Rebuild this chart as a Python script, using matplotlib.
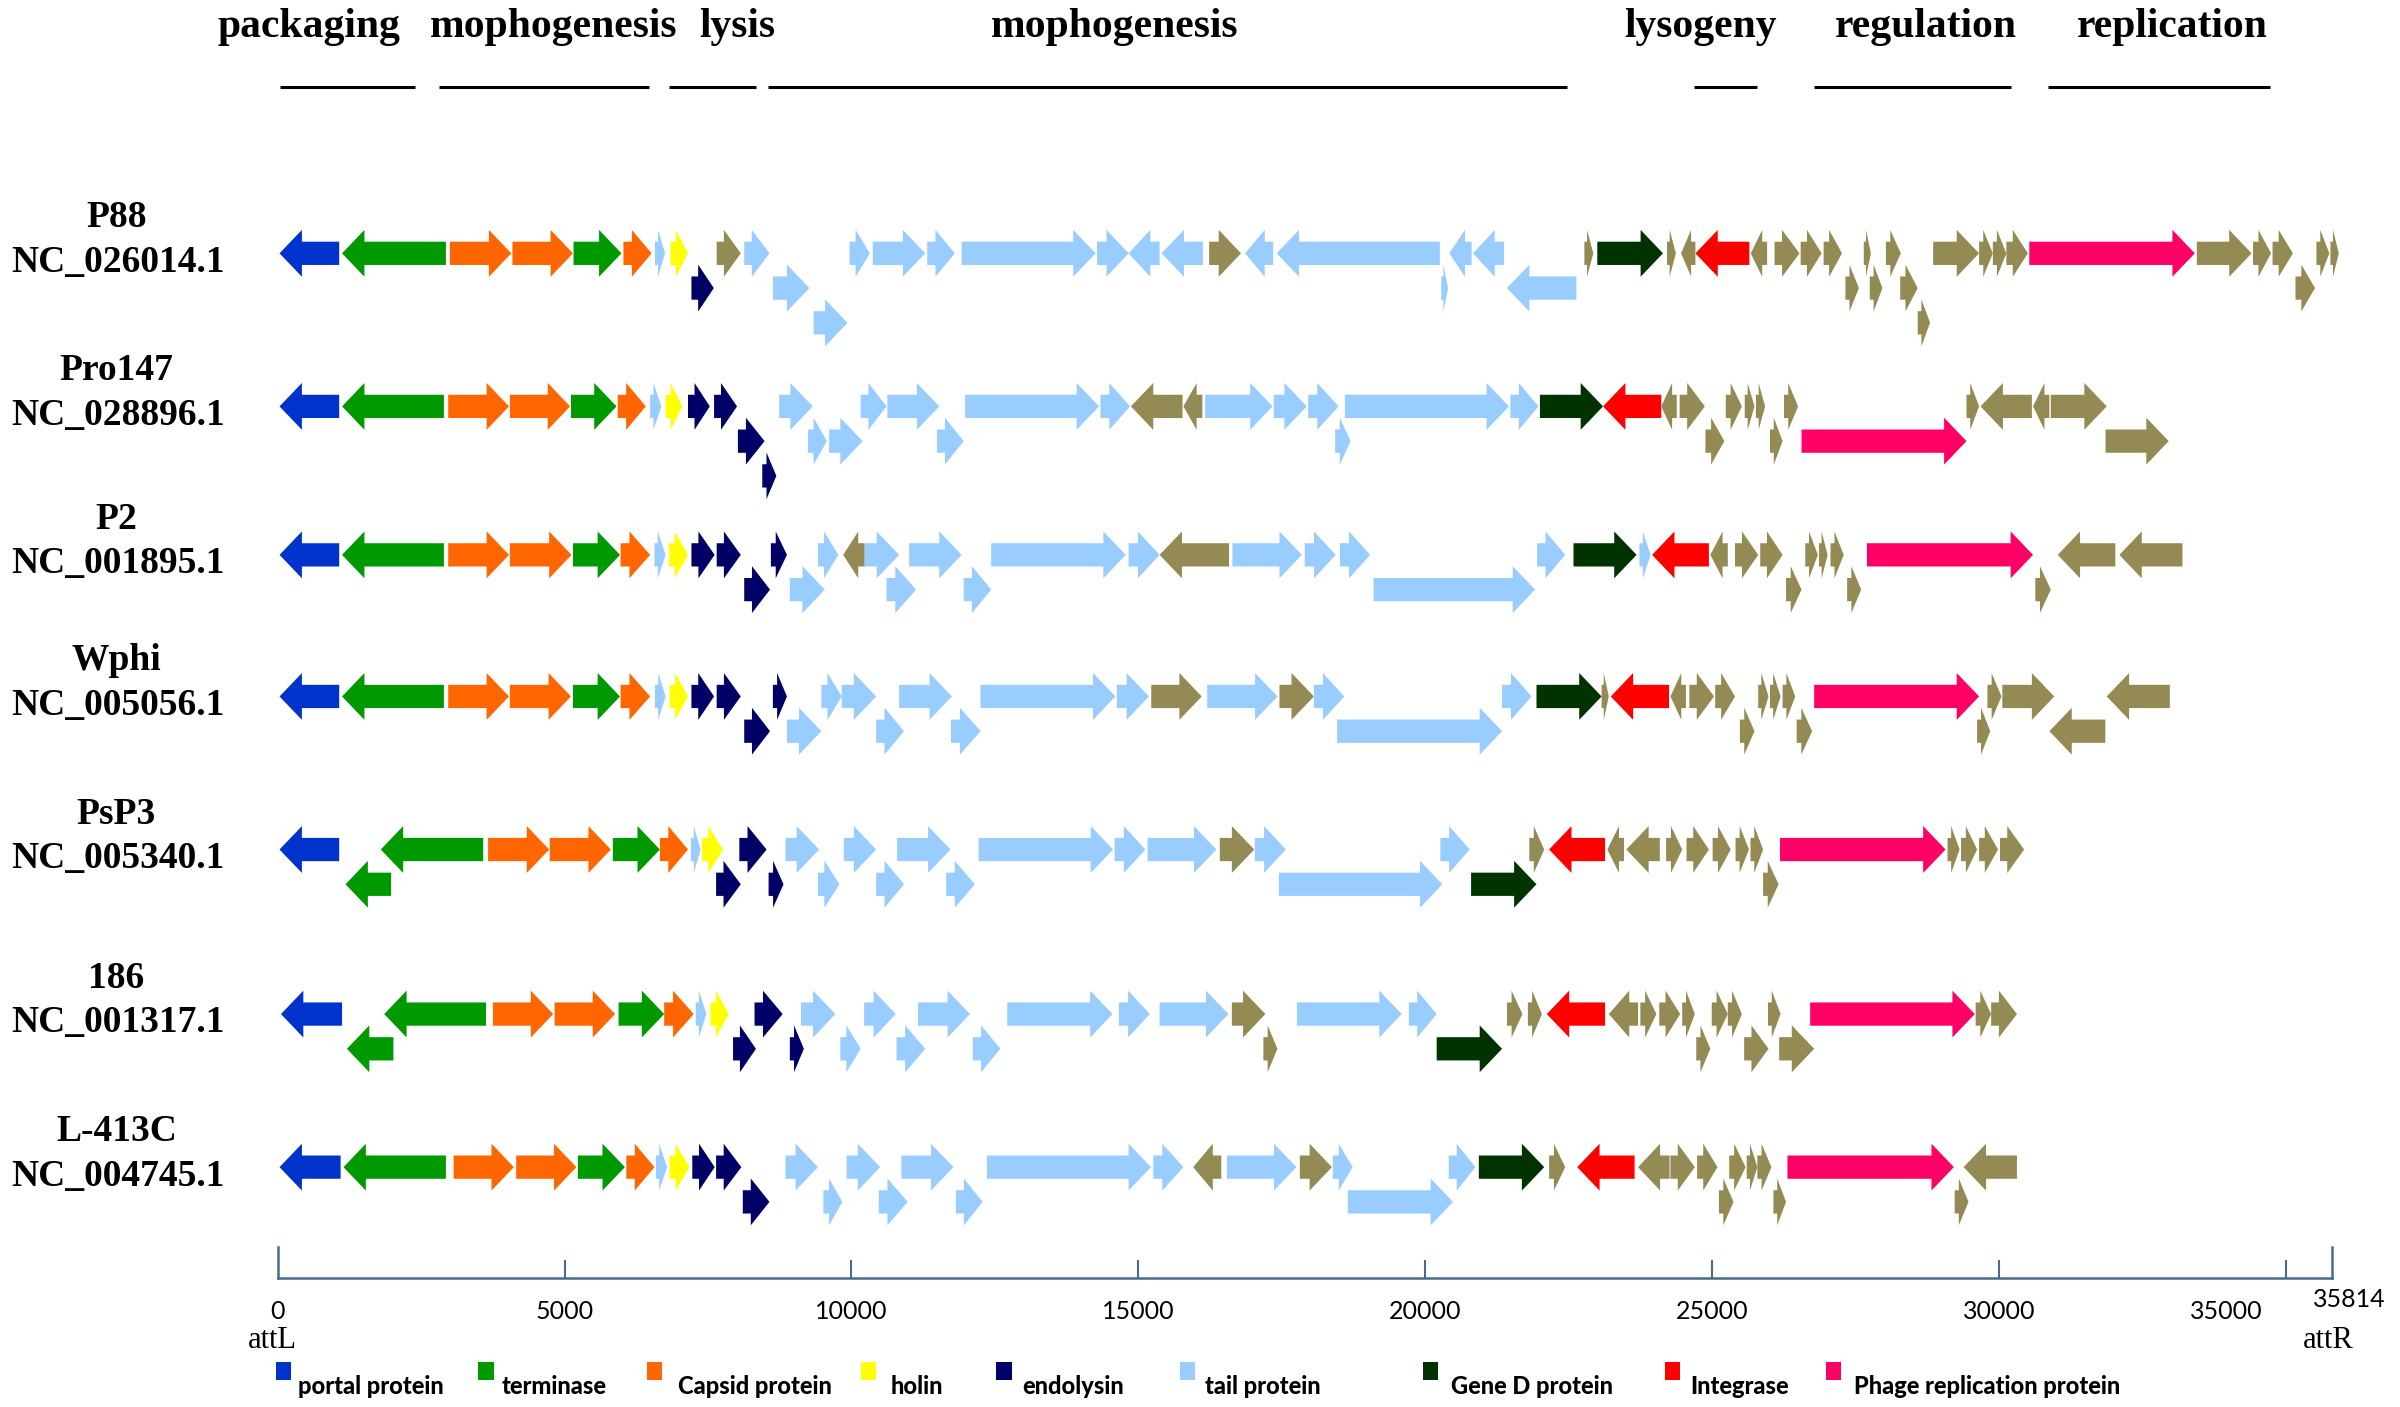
import numpy as np
import matplotlib
matplotlib.use('Agg')
from matplotlib import pyplot as plt
from matplotlib.patches import Polygon, Rectangle

# gene tuples: (start bp, end bp, strand, lane, category)
# categories: P portal, T terminase, C capsid, H holin, E endolysin, L tail,
#             D gene D, I integrase, R replication, O other
p88 = [
    (30, 1070, -1, 0, 'P'), (1120, 2930, -1, 0, 'T'), (3000, 4070, 1, 0, 'C'),
    (4090, 5145, 1, 0, 'C'), (5155, 5990, 1, 0, 'T'), (6025, 6515, 1, 0, 'C'),
    (6575, 6750, 1, 0, 'L'), (6845, 7150, 1, 0, 'H'), (7210, 7600, 1, 1, 'E'),
    (7650, 8070, 1, 0, 'O'), (8130, 8570, 1, 0, 'L'), (8630, 9265, 1, 1, 'L'),
    (9340, 9930, 1, 2, 'L'), (9965, 10320, 1, 0, 'L'), (10370, 11285, 1, 0, 'L'),
    (11320, 11800, 1, 0, 'L'), (11920, 14255, 1, 0, 'L'), (14280, 14830, 1, 0, 'L'),
    (14830, 15370, -1, 0, 'L'), (15405, 16125, -1, 0, 'L'), (16235, 16790, 1, 0, 'O'),
    (16860, 17350, -1, 0, 'L'), (17410, 20255, -1, 0, 'L'), (20280, 20400, 1, 1, 'L'),
    (20420, 20810, -1, 0, 'L'), (20835, 21375, -1, 0, 'L'), (21425, 22635, -1, 1, 'L'),
    (22775, 22930, 1, 0, 'O'), (23000, 24145, 1, 0, 'D'), (24215, 24370, 1, 0, 'O'),
    (24460, 24710, -1, 0, 'O'), (24710, 25650, -1, 0, 'I'), (25675, 25960, -1, 0, 'O'),
    (26090, 26525, 1, 0, 'O'), (26545, 26910, 1, 0, 'O'), (26945, 27265, 1, 0, 'O'),
    (27325, 27560, 1, 1, 'O'), (27645, 27770, 1, 0, 'O'), (27750, 27970, 1, 1, 'O'),
    (28030, 28290, 1, 0, 'O'), (28280, 28585, 1, 1, 'O'), (28585, 28800, 1, 2, 'O'),
    (28855, 29655, 1, 0, 'O'), (29655, 29895, 1, 0, 'O'), (29895, 30130, 1, 0, 'O'),
    (30130, 30505, 1, 0, 'O'), (30530, 33415, 1, 0, 'R'), (33450, 34405, 1, 0, 'O'),
    (34430, 34745, 1, 0, 'O'), (34770, 35125, 1, 0, 'O'), (35170, 35510, 1, 1, 'O'),
    (35535, 35760, 1, 0, 'O'), (35780, 35925, 1, 0, 'O'),
]

pro147 = [
    (30, 1070, -1, 0, 'P'), (1120, 2895, -1, 0, 'T'), (2970, 4030, 1, 0, 'C'),
    (4045, 5095, 1, 0, 'C'), (5110, 5905, 1, 0, 'T'), (5925, 6415, 1, 0, 'C'),
    (6490, 6685, 1, 0, 'L'), (6760, 7050, 1, 0, 'H'), (7150, 7530, 1, 0, 'E'),
    (7605, 8005, 1, 0, 'E'), (8020, 8485, 1, 1, 'E'), (8445, 8690, 1, 2, 'E'),
    (8740, 9325, 1, 0, 'L'), (9240, 9570, 1, 1, 'L'), (9610, 10195, 1, 1, 'L'),
    (10160, 10610, 1, 0, 'L'), (10625, 11530, 1, 0, 'L'), (11490, 11955, 1, 1, 'L'),
    (11980, 14315, 1, 0, 'L'), (14340, 14855, 1, 0, 'L'), (14870, 15770, -1, 0, 'O'),
    (15785, 16115, -1, 0, 'O'), (16165, 17340, 1, 0, 'L'), (17360, 17935, 1, 0, 'L'),
    (17960, 18490, 1, 0, 'L'), (18430, 18700, 1, 1, 'L'), (18600, 21460, 1, 0, 'L'),
    (21485, 21975, 1, 0, 'L'), (22000, 23100, 1, 0, 'D'), (23100, 24115, -1, 0, 'I'),
    (24115, 24385, -1, 0, 'O'), (24435, 24875, 1, 0, 'O'), (24885, 25215, 1, 1, 'O'),
    (25240, 25520, 1, 0, 'O'), (25570, 25740, 1, 0, 'O'), (25765, 25925, 1, 0, 'O'),
    (26010, 26230, 1, 1, 'O'), (26255, 26500, 1, 0, 'O'), (26560, 29435, 1, 1, 'R'),
    (29435, 29655, 1, 0, 'O'), (29680, 30575, -1, 0, 'O'), (30595, 30880, -1, 0, 'O'),
    (30905, 31880, 1, 0, 'O'), (31860, 32960, 1, 1, 'O'),
]

p2 = [
    (30, 1070, -1, 0, 'P'), (1120, 2895, -1, 0, 'T'), (2970, 4030, 1, 0, 'C'),
    (4045, 5120, 1, 0, 'C'), (5145, 5965, 1, 0, 'T'), (5975, 6490, 1, 0, 'C'),
    (6565, 6760, 1, 0, 'L'), (6820, 7150, 1, 0, 'H'), (7210, 7615, 1, 0, 'E'),
    (7650, 8070, 1, 0, 'E'), (8130, 8580, 1, 1, 'E'), (8595, 8875, 1, 0, 'E'),
    (8925, 9535, 1, 1, 'L'), (9415, 9770, 1, 0, 'L'), (9855, 10230, -1, 0, 'O'),
    (10230, 10830, 1, 0, 'L'), (10610, 11125, 1, 1, 'L'), (11005, 11920, 1, 0, 'L'),
    (11955, 12435, 1, 1, 'L'), (12435, 14780, 1, 0, 'L'), (14830, 15370, 1, 0, 'L'),
    (15370, 16580, -1, 0, 'O'), (16640, 17850, 1, 0, 'L'), (17900, 18440, 1, 0, 'L'),
    (18515, 19040, 1, 0, 'L'), (19100, 21915, 1, 1, 'L'), (21950, 22440, 1, 0, 'L'),
    (22585, 23685, 1, 0, 'D'), (23735, 23930, 1, 0, 'L'), (23955, 24945, -1, 0, 'I'),
    (24970, 25275, -1, 0, 'O'), (25400, 25805, 1, 0, 'O'), (25840, 26230, 1, 0, 'O'),
    (26290, 26560, 1, 1, 'O'), (26625, 26845, 1, 0, 'O'), (26865, 27015, 1, 0, 'O'),
    (27065, 27295, 1, 0, 'O'), (27355, 27600, 1, 1, 'O'), (27700, 30595, 1, 0, 'R'),
    (30635, 30905, 1, 1, 'O'), (31025, 32030, -1, 0, 'O'), (32100, 33200, -1, 0, 'O'),
]

wphi = [
    (30, 1070, -1, 0, 'P'), (1120, 2895, -1, 0, 'T'), (2970, 4030, 1, 0, 'C'),
    (4045, 5110, 1, 0, 'C'), (5145, 5965, 1, 0, 'T'), (5975, 6490, 1, 0, 'C'),
    (6575, 6760, 1, 0, 'L'), (6830, 7150, 1, 0, 'H'), (7210, 7605, 1, 0, 'E'),
    (7650, 8070, 1, 0, 'E'), (8130, 8580, 1, 1, 'E'), (8630, 8875, 1, 0, 'E'),
    (8875, 9475, 1, 1, 'L'), (9475, 9830, 1, 0, 'L'), (9830, 10430, 1, 0, 'L'),
    (10430, 10915, 1, 1, 'L'), (10830, 11750, 1, 0, 'L'), (11735, 12250, 1, 1, 'L'),
    (12250, 14600, 1, 0, 'L'), (14625, 15185, 1, 0, 'L'), (15225, 16105, 1, 0, 'O'),
    (16200, 17425, 1, 0, 'L'), (17460, 18060, 1, 0, 'O'), (18060, 18590, 1, 0, 'L'),
    (18465, 21340, 1, 1, 'L'), (21340, 21855, 1, 0, 'L'), (21940, 23075, 1, 0, 'D'),
    (23075, 23200, 1, 0, 'O'), (23235, 24250, -1, 0, 'I'), (24275, 24545, -1, 0, 'O'),
    (24605, 25035, 1, 0, 'O'), (25055, 25400, 1, 0, 'O'), (25485, 25740, 1, 1, 'O'),
    (25805, 25985, 1, 0, 'O'), (26010, 26195, 1, 0, 'O'), (26230, 26450, 1, 0, 'O'),
    (26475, 26745, 1, 1, 'O'), (26780, 29655, 1, 0, 'R'), (29620, 29850, 1, 1, 'O'),
    (29800, 30045, 1, 0, 'O'), (30060, 30965, 1, 0, 'O'), (30880, 31855, -1, 1, 'O'),
    (31880, 32980, -1, 0, 'O'),
]

psp3 = [
    (30, 1070, -1, 0, 'P'), (1180, 1975, -1, 1, 'T'), (1795, 3580, -1, 0, 'T'),
    (3665, 4730, 1, 0, 'C'), (4740, 5805, 1, 0, 'C'), (5840, 6660, 1, 0, 'T'),
    (6660, 7150, 1, 0, 'C'), (7200, 7370, 1, 0, 'L'), (7395, 7760, 1, 0, 'H'),
    (7640, 8070, 1, 1, 'E'), (8045, 8520, 1, 0, 'E'), (8555, 8815, 1, 1, 'E'),
    (8850, 9435, 1, 0, 'L'), (9415, 9790, 1, 1, 'L'), (9865, 10430, 1, 0, 'L'),
    (10430, 10915, 1, 1, 'L'), (10795, 11725, 1, 0, 'L'), (11650, 12150, 1, 1, 'L'),
    (12215, 14560, 1, 0, 'L'), (14585, 15125, 1, 0, 'L'), (15160, 16360, 1, 0, 'L'),
    (16420, 17020, 1, 0, 'O'), (17030, 17570, 1, 0, 'L'), (17450, 20300, 1, 1, 'L'),
    (20265, 20775, 1, 0, 'L'), (20800, 21940, 1, 1, 'D'), (21815, 22075, 1, 0, 'O'),
    (22160, 23135, -1, 0, 'I'), (23175, 23465, -1, 0, 'O'), (23505, 24090, -1, 0, 'O'),
    (24200, 24480, 1, 0, 'O'), (24555, 24945, 1, 0, 'O'), (25010, 25325, 1, 0, 'O'),
    (25410, 25645, 1, 0, 'O'), (25670, 25890, 1, 0, 'O'), (25890, 26160, 1, 1, 'O'),
    (26185, 29070, 1, 0, 'R'), (29105, 29315, 1, 0, 'O'), (29340, 29620, 1, 0, 'O'),
    (29655, 29985, 1, 0, 'O'), (30020, 30440, 1, 0, 'O'),
]

r186 = [
    (55, 1120, -1, 0, 'P'), (1205, 2015, -1, 1, 'T'), (1855, 3630, -1, 0, 'T'),
    (3750, 4800, 1, 0, 'C'), (4825, 5880, 1, 0, 'C'), (5940, 6735, 1, 0, 'T'),
    (6735, 7250, 1, 0, 'C'), (7285, 7470, 1, 0, 'L'), (7540, 7860, 1, 0, 'H'),
    (7935, 8335, 1, 1, 'E'), (8310, 8800, 1, 0, 'E'), (8925, 9170, 1, 1, 'E'),
    (9120, 9720, 1, 0, 'L'), (9805, 10160, 1, 1, 'L'), (10220, 10770, 1, 0, 'L'),
    (10785, 11285, 1, 1, 'L'), (11160, 12065, 1, 0, 'L'), (12115, 12595, 1, 1, 'L'),
    (12715, 14550, 1, 0, 'L'), (14660, 15200, 1, 0, 'L'), (15370, 16570, 1, 0, 'L'),
    (16630, 17215, 1, 0, 'O'), (17180, 17425, 1, 1, 'O'), (17765, 19590, 1, 0, 'L'),
    (19715, 20200, 1, 0, 'L'), (20200, 21340, 1, 1, 'D'), (21425, 21695, 1, 0, 'O'),
    (21790, 22035, 1, 0, 'O'), (22120, 23135, -1, 0, 'I'), (23200, 23710, -1, 0, 'O'),
    (23750, 24030, 1, 0, 'O'), (24080, 24445, 1, 0, 'O'), (24480, 24700, 1, 0, 'O'),
    (24725, 24970, 1, 1, 'O'), (24995, 25275, 1, 0, 'O'), (25275, 25520, 1, 0, 'O'),
    (25560, 25985, 1, 1, 'O'), (25975, 26195, 1, 0, 'O'), (26170, 26780, 1, 1, 'O'),
    (26710, 29580, 1, 0, 'R'), (29595, 29865, 1, 0, 'O'), (29865, 30315, 1, 0, 'O'),
]

l413c = [
    (30, 1095, -1, 0, 'P'), (1145, 2930, -1, 0, 'T'), (3065, 4115, 1, 0, 'C'),
    (4155, 5205, 1, 0, 'C'), (5230, 6050, 1, 0, 'T'), (6075, 6565, 1, 0, 'C'),
    (6590, 6785, 1, 0, 'L'), (6830, 7175, 1, 0, 'H'), (7225, 7615, 1, 0, 'E'),
    (7640, 8080, 1, 0, 'E'), (8105, 8570, 1, 1, 'E'), (8850, 9415, 1, 0, 'L'),
    (9510, 9840, 1, 1, 'L'), (9915, 10500, 1, 0, 'L'), (10475, 10980, 1, 1, 'L'),
    (10870, 11775, 1, 0, 'L'), (11820, 12285, 1, 1, 'L'), (12360, 15220, 1, 0, 'L'),
    (15260, 15785, 1, 0, 'L'), (15955, 16445, -1, 0, 'O'), (16545, 17755, 1, 0, 'L'),
    (17815, 18375, 1, 0, 'O'), (18390, 18735, 1, 0, 'L'), (18650, 20485, 1, 1, 'L'),
    (20410, 20875, 1, 0, 'L'), (20935, 22075, 1, 0, 'D'), (22160, 22440, 1, 0, 'O'),
    (22650, 23650, -1, 0, 'I'), (23710, 24260, -1, 0, 'O'), (24275, 24700, 1, 0, 'O'),
    (24740, 25095, 1, 0, 'O'), (25120, 25375, 1, 1, 'O'), (25300, 25585, 1, 0, 'O'),
    (25605, 25790, 1, 0, 'O'), (25790, 26035, 1, 0, 'O'), (26070, 26290, 1, 1, 'O'),
    (26315, 29215, 1, 0, 'R'), (29230, 29470, 1, 1, 'O'), (29385, 30315, -1, 0, 'O'),
]

genomes = [p88, pro147, p2, wphi, psp3, r186, l413c]
names = ['P88', 'Pro147', 'P2', 'Wphi', 'PsP3', '186', 'L-413C']
accessions = ['NC_026014.1', 'NC_028896.1', 'NC_001895.1', 'NC_005056.1',
              'NC_005340.1', 'NC_001317.1', 'NC_004745.1']

# functional modules above the map: (label, start bp, end bp, label centre bp)
modules = [
    ('packaging', 45, 2390, 550),
    ('mophogenesis', 2815, 6470, 4815),
    ('lysis', 6815, 8340, 8015),
    ('mophogenesis', 8550, 22480, 14585),
    ('lysogeny', 24690, 25790, 24800),
    ('regulation', 26775, 30215, 28720),
    ('replication', 30855, 34725, 33015),
]

genome_len = 35814
tick_values = [0, 5000, 10000, 15000, 20000, 25000, 30000, 35000]

colors = {'P': '#0033CC', 'T': '#009900', 'C': '#FF6600', 'H': '#FFFF00',
          'E': '#000066', 'L': '#99CCFF', 'D': '#003300', 'I': '#FF0000',
          'R': '#FF0066', 'O': '#948A54'}
legend_codes = ['P', 'T', 'C', 'H', 'E', 'L', 'D', 'I', 'R']
legend_labels = ['portal protein', 'terminase', 'Capsid protein', 'holin', 'endolysin',
                 'tail protein', 'Gene D protein', 'Integrase', 'Phage replication protein']

# layout (vertical units = pixels of a 1568 x 919 canvas)
W, H = 1568.0, 919.2
BP_PER_PX = 26.68
X0_PX = 181.5
row_y = [165.5, 265.5, 362.5, 455.0, 555.0, 662.5, 762.5]
LANE_STEP = 22.7
HEAD = 15.3
BODY = 7.6
HEAD_BP = 390
AXIS_Y = 835
serif = 'Liberation Serif'
sans = 'Lato'


def px2bp(px):
    return (px - X0_PX) * BP_PER_PX


def draw_gene(ax, s, e, strand, y, color):
    h = min(HEAD_BP, 0.7 * (e - s))
    if strand > 0:
        tail, tip, neck = s, e, e - h
    else:
        tail, tip, neck = e, s, s + h
    pts = [(tail, y - BODY), (neck, y - BODY), (neck, y - HEAD), (tip, y),
           (neck, y + HEAD), (neck, y + BODY), (tail, y + BODY)]
    ax.add_patch(Polygon(pts, closed=True, fc=color, ec='none'))


fig = plt.figure(figsize=(24, 14.07), dpi=100)
ax = fig.add_axes([0, 0, 1, 1])
ax.set_xlim(px2bp(0), px2bp(W))
ax.set_ylim(H, 0)
ax.axis('off')

# gene rows
for genes, y, name, acc in zip(genomes, row_y, names, accessions):
    for s, e, strand, lane, cat in genes:
        draw_gene(ax, s, e, strand, y + lane * LANE_STEP, colors[cat])
    ax.text(px2bp(76), y - 17, name, family=serif, weight='bold', fontsize=27,
            ha='center', va='baseline')
    ax.text(px2bp(77), y + 12, acc, family=serif, weight='bold', fontsize=27,
            ha='center', va='baseline')

# module header
for label, s, e, c in modules:
    ax.plot([s, e], [57, 57], color='black', lw=2.2, solid_capstyle='butt')
    ax.text(c, 24, label, family=serif, weight='bold', fontsize=30,
            ha='center', va='baseline')

# scale axis
axis_col = '#4A6A8C'
ax.plot([0, genome_len], [AXIS_Y, AXIS_Y], color=axis_col, lw=1.8)
for t in tick_values[1:]:
    ax.plot([t, t], [AXIS_Y - 11, AXIS_Y], color=axis_col, lw=1.5)
for t in [0, genome_len]:
    ax.plot([t, t], [AXIS_Y - 20.5, AXIS_Y], color=axis_col, lw=1.8)
for t in tick_values:
    xt = t if t < 35000 else t - 1040
    ax.text(xt, 857, str(t), family=sans, fontsize=18, ha='center', va='center')
ax.text(genome_len + 290, 849, str(genome_len), family=sans, fontsize=18,
        ha='center', va='center')
ax.text(px2bp(178), 875.5, 'attL', family=serif, fontsize=22, ha='center', va='center')
ax.text(px2bp(1521), 876, 'attR', family=serif, fontsize=22, ha='center', va='center')

# legend
sq_px = [180, 312.5, 422.5, 562.5, 651, 771, 929.5, 1087.5, 1193]
txt_px = [194.5, 327.5, 443, 582, 668, 787, 948, 1104, 1211.5]
for code, label, sx, tx in zip(legend_codes, legend_labels, sq_px, txt_px):
    ax.add_patch(Rectangle((px2bp(sx), 889.6), 10 * BP_PER_PX, 12,
                           fc=colors[code], ec='none'))
    ax.text(px2bp(tx), 906, label, family=sans, weight='black', fontsize=17,
            ha='left', va='center', color='black')

fig.savefig('out.png', dpi=100)
